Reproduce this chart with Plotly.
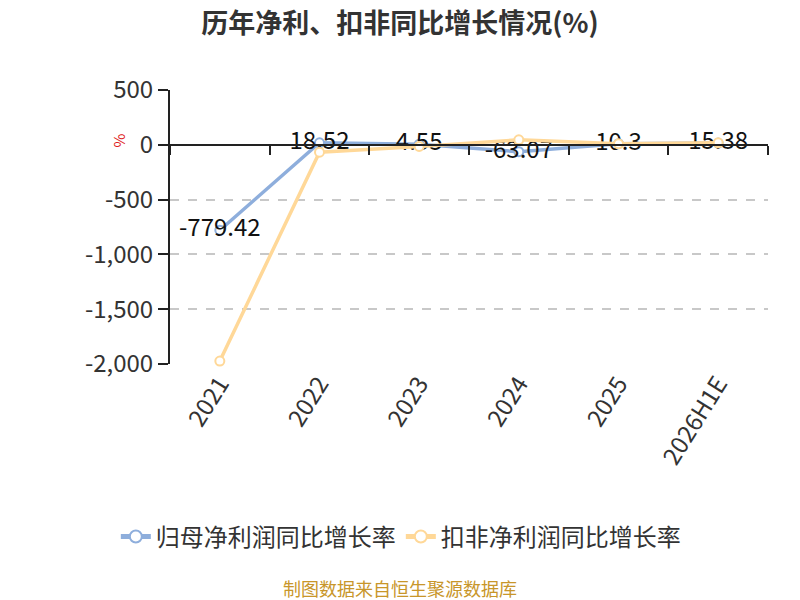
import plotly.graph_objects as go

# Years and growth rates (%)
years = ["2021", "2022", "2023", "2024", "2025", "2026H1E"]
net_profit_growth = [-779.42, 18.52, 4.55, -63.07, 10.3, 15.38]
deducted_growth = [-1973, -67, -15, 45, 9, 18]

y_ticks = [500, 0, -500, -1000, -1500, -2000]
y_tick_text = ["500", "0", "-500", "-1,000", "-1,500", "-2,000"]

blue = "#8eaedc"
yellow = "#ffd898"
font_family = "Noto Sans CJK SC, Noto Sans, sans-serif"

fig = go.Figure()

fig.add_trace(
    go.Scatter(
        x=years,
        y=net_profit_growth,
        mode="lines+markers+text",
        name="归母净利润同比增长率",
        line=dict(color=blue, width=3.5),
        marker=dict(size=9, color="white", line=dict(color=blue, width=2)),
        text=[str(v) for v in net_profit_growth],
        textposition="middle center",
        textfont=dict(size=24, color="#111111"),
        cliponaxis=False,
    )
)

fig.add_trace(
    go.Scatter(
        x=years,
        y=deducted_growth,
        mode="lines+markers",
        name="扣非净利润同比增长率",
        line=dict(color=yellow, width=3.5),
        marker=dict(size=9, color="white", line=dict(color=yellow, width=2)),
        cliponaxis=False,
    )
)

# invisible helper so the zero-crossing axis gets drawn
fig.add_trace(
    go.Scatter(
        x=years,
        y=net_profit_growth,
        xaxis="x2",
        mode="lines",
        opacity=0,
        showlegend=False,
        hoverinfo="skip",
    )
)

fig.update_layout(
    width=800,
    height=600,
    margin=dict(l=170, r=32, t=90, b=236),
    paper_bgcolor="white",
    plot_bgcolor="white",
    font=dict(family=font_family, color="#333333"),
    title=dict(
        text="<b>历年净利、扣非同比增长情况(%)</b>",
        x=0.5,
        xanchor="center",
        y=0.961,
        yanchor="middle",
        font=dict(size=27, color="#333333"),
    ),
    xaxis=dict(
        type="category",
        categoryorder="array",
        categoryarray=years,
        range=[-0.5, 5.5],
        showline=False,
        showgrid=False,
        zeroline=False,
        ticks="",
        tickangle=-58,
        tickfont=dict(size=24, color="#333333"),
    ),
    xaxis2=dict(
        type="category",
        categoryorder="array",
        categoryarray=years,
        range=[-0.5, 5.5],
        overlaying="x",
        anchor="free",
        position=0.8,
        side="bottom",
        showline=True,
        linecolor="#222222",
        linewidth=2,
        ticks="outside",
        tickson="boundaries",
        ticklen=9,
        tickwidth=2,
        tickcolor="#222222",
        showticklabels=False,
        showgrid=False,
        zeroline=False,
    ),
    yaxis=dict(
        range=[-2000, 500],
        tickvals=y_ticks,
        ticktext=y_tick_text,
        showline=True,
        linecolor="#222222",
        linewidth=2,
        ticks="outside",
        ticklen=10,
        tickwidth=2,
        tickcolor="#222222",
        showgrid=True,
        gridcolor="#c8c8c8",
        gridwidth=1.5,
        griddash="dash",
        zeroline=False,
        tickfont=dict(size=24, color="#333333"),
    ),
    legend=dict(
        orientation="h",
        x=0.386,
        xanchor="center",
        y=-0.631,
        yanchor="middle",
        font=dict(size=24, color="#333333"),
        itemsizing="constant",
    ),
    showlegend=True,
)

fig.add_annotation(
    text="%",
    xref="paper",
    yref="paper",
    x=-0.107,
    y=0.847,
    showarrow=False,
    textangle=-90,
    font=dict(size=15, color="#e02020"),
)

fig.add_annotation(
    text="制图数据来自恒生聚源数据库",
    xref="paper",
    yref="paper",
    x=0.385,
    y=-0.818,
    xanchor="center",
    yanchor="middle",
    showarrow=False,
    font=dict(size=18, color="#c8962a"),
)

# drop the default 8px body margin so the 800x600 figure fills the window
fig.write_html(
    "out.html",
    config={"displayModeBar": False},
    post_script="document.body.style.margin = '0';",
)
